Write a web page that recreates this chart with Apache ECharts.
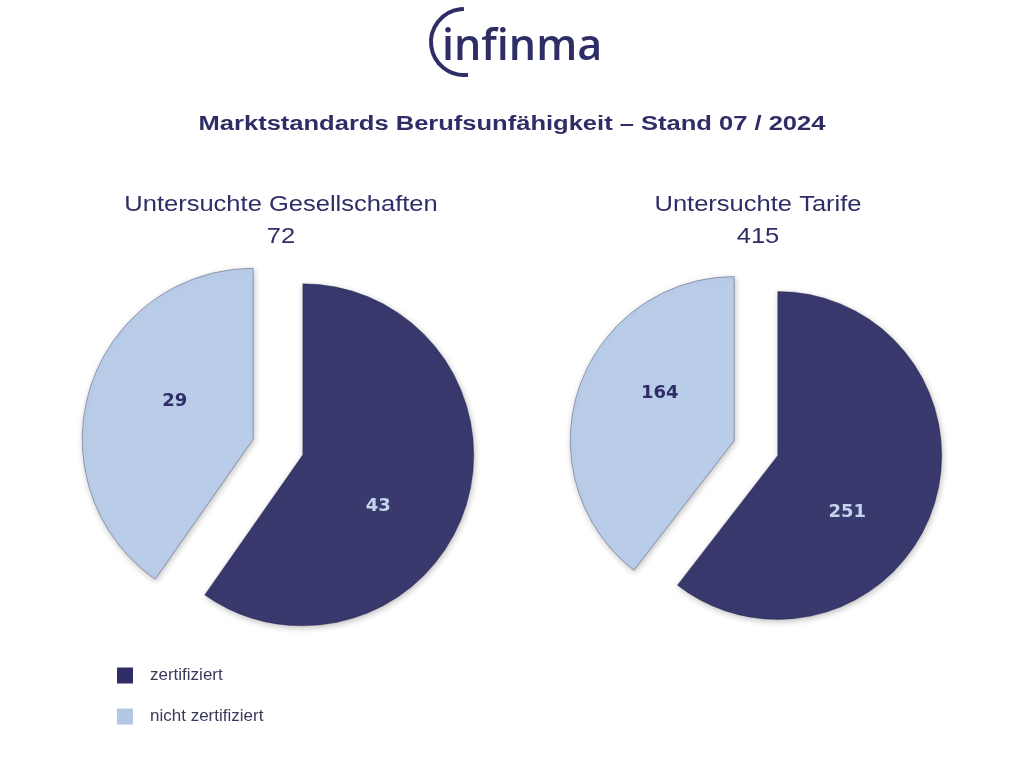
<!DOCTYPE html>
<html><head><meta charset="utf-8">
<script src="https://cdn.jsdelivr.net/npm/echarts@6/dist/echarts.min.js"></script>
<style>html,body{margin:0;padding:0;background:#fff}#c{width:1024px;height:768px}</style>
</head><body><div id="c"></div>
<script>
const categories = ['zertifiziert', 'nicht zertifiziert'];
const gesellschaften = [43, 29];
const tarife = [251, 164];
const mainTitle = 'Marktstandards Berufsunfähigkeit – Stand 07 / 2024';
const leftTitle = 'Untersuchte Gesellschaften';
const rightTitle = 'Untersuchte Tarife';

const DARK = '#3a396d', LIGHT = '#b9cde9';
const sliceColors = [DARK, LIGHT];
const labelColors = ['#c3d4ec', '#2e2d66'];
// small label nudges (style only), per series / slice
const labelNudge = [[[-9, 25], [6, -11]], [[-11, 29], [6, -20]]];

function pieData(vals){
  return vals.map((v,i)=>({
    name: categories[i], value: v, selected: true,
    itemStyle:{color: sliceColors[i]},
    label:{color: labelColors[i]}
  }));
}
function total(a){return a.reduce((s,x)=>s+x,0);}
function nudge(si){
  return function(p){ const n = labelNudge[si][p.dataIndex]; return {dx:n[0], dy:n[1]}; };
}

const INK = '#2e2d66';
function txt(text, x, y, font, sx){
  return {type:'text', x:x, y:y, scaleX:sx, silent:true,
    style:{text:text, font:font, fill:INK, textAlign:'center', textVerticalAlign:'middle'}};
}

const chart = echarts.init(document.getElementById('c'));
const pieCommon = {
  type:'pie', startAngle:90, clockwise:true, selectedMode:'multiple', silent:true,
  emphasis:{disabled:true},
  itemStyle:{borderColor:'rgba(30,30,70,0.35)', borderWidth:1, shadowBlur:6, shadowColor:'rgba(0,0,0,0.25)', shadowOffsetX:1, shadowOffsetY:2},
  label:{show:true, position:'inside', formatter:'{c}', fontFamily:'DejaVu Sans', fontWeight:'bold', fontSize:18},
  labelLine:{show:false}
};
chart.setOption({
  animation:false,
  backgroundColor:'#fff',
  legend:{
    orient:'vertical', left:117, top:667, padding:0, itemWidth:16, itemHeight:16, itemGap:24,
    icon:'rect', selectedMode:false,
    data:[{name:categories[0], itemStyle:{color:'#2f2e64', borderWidth:0, shadowBlur:0}},
          {name:categories[1], itemStyle:{color:'#b3c8e6', borderWidth:0, shadowBlur:0}}],
    textStyle:{fontFamily:'Liberation Sans, Arial', fontSize:17, color:'#3a3a5c', padding:[0,0,0,12]}
  },
  graphic:[
    {type:'arc', shape:{cx:464, cy:42, r:33, startAngle:1.45, endAngle:4.71, clockwise:true},
     style:{stroke:INK, lineWidth:4, fill:null}},
    {type:'text', left:442, top:26, style:{text:'infinma', fill:INK, font:'600 43px "Open Sans"'}},
    txt(mainTitle, 512, 124, 'bold 20px "Liberation Sans", Arial', 1.276),
    txt(leftTitle, 281, 205, '22px "Liberation Sans", Arial', 1.16),
    txt(String(total(gesellschaften)), 281, 237, '22px "Liberation Sans", Arial', 1.16),
    txt(rightTitle, 758, 205, '22px "Liberation Sans", Arial', 1.16),
    txt(String(total(tarife)), 758, 237, '22px "Liberation Sans", Arial', 1.16)
  ],
  series:[
    Object.assign({}, pieCommon, {center:[278,447], radius:171, selectedOffset:26,
      labelLayout: nudge(0), data: pieData(gesellschaften)}),
    Object.assign({}, pieCommon, {center:[756,448], radius:164, selectedOffset:23,
      labelLayout: nudge(1), data: pieData(tarife)})
  ]
});
</script></body></html>
